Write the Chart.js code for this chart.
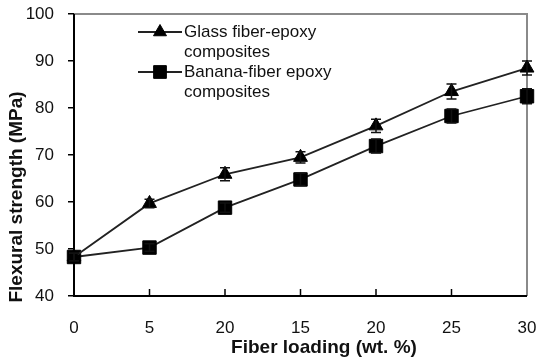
<!DOCTYPE html>
<html>
<head>
<meta charset="utf-8">
<script src="https://cdn.jsdelivr.net/npm/chart.js@4.4.1/dist/chart.umd.min.js"></script>
<style>
  html, body { margin: 0; padding: 0; background: #fff; }
  #wrap { width: 538px; height: 363px; }
</style>
</head>
<body>
<div id="wrap"><canvas id="flexChart" width="538" height="363"></canvas></div>
<script>
// Data
const loadings = ["0", "5", "20", "15", "20", "25", "30"];
const glassFiber = [48.3, 59.7, 65.9, 69.5, 76.2, 83.5, 88.5];
const glassErr = [0.8, 0.9, 1.4, 1.2, 1.4, 1.6, 1.5];
const bananaFiber = [48.3, 50.3, 58.8, 64.8, 71.9, 78.3, 82.5];
const bananaErr = [0.8, 0.8, 1.0, 1.3, 1.5, 1.5, 1.6];
const yTicks = [40, 50, 60, 70, 80, 90, 100];

const textFont = "'Liberation Sans', Arial, sans-serif";
const ink = "#111";

// error bars drawn through the chart's own scales
const errorBars = {
  id: "errorBars",
  afterDatasetsDraw(chart) {
    const ctx = chart.ctx;
    const y = chart.scales.y;
    const errs = [glassErr, bananaErr];
    ctx.save();
    ctx.strokeStyle = ink;
    ctx.lineWidth = 1.5;
    chart.data.datasets.forEach((ds, i) => {
      const meta = chart.getDatasetMeta(i);
      meta.data.forEach((pt, j) => {
        const top = y.getPixelForValue(ds.data[j] + errs[i][j]);
        const bot = y.getPixelForValue(ds.data[j] - errs[i][j]);
        ctx.beginPath();
        ctx.moveTo(pt.x, top); ctx.lineTo(pt.x, bot);
        ctx.moveTo(pt.x - 5, top); ctx.lineTo(pt.x + 5, top);
        ctx.moveTo(pt.x - 5, bot); ctx.lineTo(pt.x + 5, bot);
        ctx.stroke();
      });
    });
    ctx.restore();
  },
};

// frame, inward x ticks, axis titles and legend
const decorations = {
  id: "decorations",
  beforeDatasetsDraw(chart) {
    const { ctx, chartArea: a } = chart;
    const x = chart.scales.x;
    ctx.save();
    // grey frame on top and right
    ctx.strokeStyle = "#8a8a8a";
    ctx.lineWidth = 2;
    ctx.beginPath();
    ctx.moveTo(a.left, a.top); ctx.lineTo(a.right, a.top); ctx.lineTo(a.right, a.bottom);
    ctx.stroke();
    // black left and bottom axes
    ctx.strokeStyle = "#000";
    ctx.beginPath();
    ctx.moveTo(a.left, a.top); ctx.lineTo(a.left, a.bottom); ctx.lineTo(a.right, a.bottom);
    ctx.stroke();
    // x ticks pointing into the plot
    ctx.lineWidth = 1.5;
    for (let i = 1; i < loadings.length - 1; i++) {
      const px = x.getPixelForTick(i);
      ctx.beginPath();
      ctx.moveTo(px, a.bottom); ctx.lineTo(px, a.bottom - 7);
      ctx.stroke();
    }
    ctx.restore();
  },
  afterDraw(chart) {
    const ctx = chart.ctx;
    ctx.save();
    ctx.fillStyle = ink;
    ctx.font = "bold 19px " + textFont;
    ctx.textAlign = "center";
    ctx.textBaseline = "middle";
    ctx.fillText("Fiber loading (wt. %)", 324, 348);
    ctx.translate(17, 197);
    ctx.rotate(-Math.PI / 2);
    ctx.fillText("Flexural strength (MPa)", 0, 0);
    ctx.restore();

    // legend
    ctx.save();
    const rows = [
      { style: "triangle", r: 7.5, y: 32, lines: ["Glass fiber-epoxy", "composites"] },
      { style: "rect", r: 9, y: 72, lines: ["Banana-fiber epoxy", "composites"] },
    ];
    rows.forEach((row) => {
      ctx.strokeStyle = "#222";
      ctx.lineWidth = 1.8;
      ctx.beginPath();
      ctx.moveTo(138, row.y); ctx.lineTo(182, row.y);
      ctx.stroke();
      ctx.fillStyle = "#000";
      ctx.strokeStyle = "#000";
      ctx.lineWidth = 1;
      Chart.helpers.drawPoint(ctx, { pointStyle: row.style, radius: row.r, borderWidth: 1, rotation: 0 }, 160, row.y);
      ctx.fillStyle = ink;
      ctx.font = "17px " + textFont;
      ctx.textAlign = "left";
      ctx.textBaseline = "middle";
      row.lines.forEach((t, k) => ctx.fillText(t, 184, row.y + k * 20));
    });
    ctx.restore();
  },
};

const ctx = document.getElementById("flexChart").getContext("2d");
const flexChart = new Chart(ctx, {
  type: "line",
  data: {
    labels: loadings,
    datasets: [
      {
        label: "Glass fiber-epoxy composites",
        data: glassFiber,
        borderColor: "#222",
        borderWidth: 1.8,
        pointStyle: "triangle",
        pointRadius: 8,
        pointBackgroundColor: "#000",
        pointBorderColor: "#000",
        pointBorderWidth: 1,
        tension: 0,
      },
      {
        label: "Banana-fiber epoxy composites",
        data: bananaFiber,
        borderColor: "#222",
        borderWidth: 1.8,
        pointStyle: "rect",
        pointRadius: 9.5,
        pointBackgroundColor: "#000",
        pointBorderColor: "#000",
        pointBorderWidth: 1,
        tension: 0,
      },
    ],
  },
  options: {
    responsive: false,
    animation: false,
    events: [],
    layout: { padding: { top: 14, right: 11, left: 0, bottom: 0 } },
    plugins: {
      legend: { display: false },
      tooltip: { enabled: false },
    },
    scales: {
      x: {
        type: "category",
        offset: false,
        border: { display: false },
        grid: { display: false, drawTicks: false },
        ticks: {
          color: ink,
          font: { family: textFont, size: 17 },
          padding: 22,
          maxRotation: 0,
          autoSkip: false,
        },
        afterFit(scale) {
          scale.height = 67;
          scale.paddingLeft = 0;
          scale.paddingRight = 0;
        },
      },
      y: {
        min: 40,
        max: 100,
        border: { display: false },
        grid: {
          drawOnChartArea: false,
          drawTicks: true,
          tickLength: 6,
          color: "#000",
          lineWidth: 1.5,
        },
        afterBuildTicks(scale) { scale.ticks = yTicks.map((v) => ({ value: v })); },
        ticks: {
          color: ink,
          font: { family: textFont, size: 17 },
          padding: 14,
        },
        afterFit(scale) {
          scale.width = 74;
          scale.paddingTop = 0;
          scale.paddingBottom = 0;
        },
      },
    },
  },
  plugins: [decorations, errorBars],
});
</script>
</body>
</html>
